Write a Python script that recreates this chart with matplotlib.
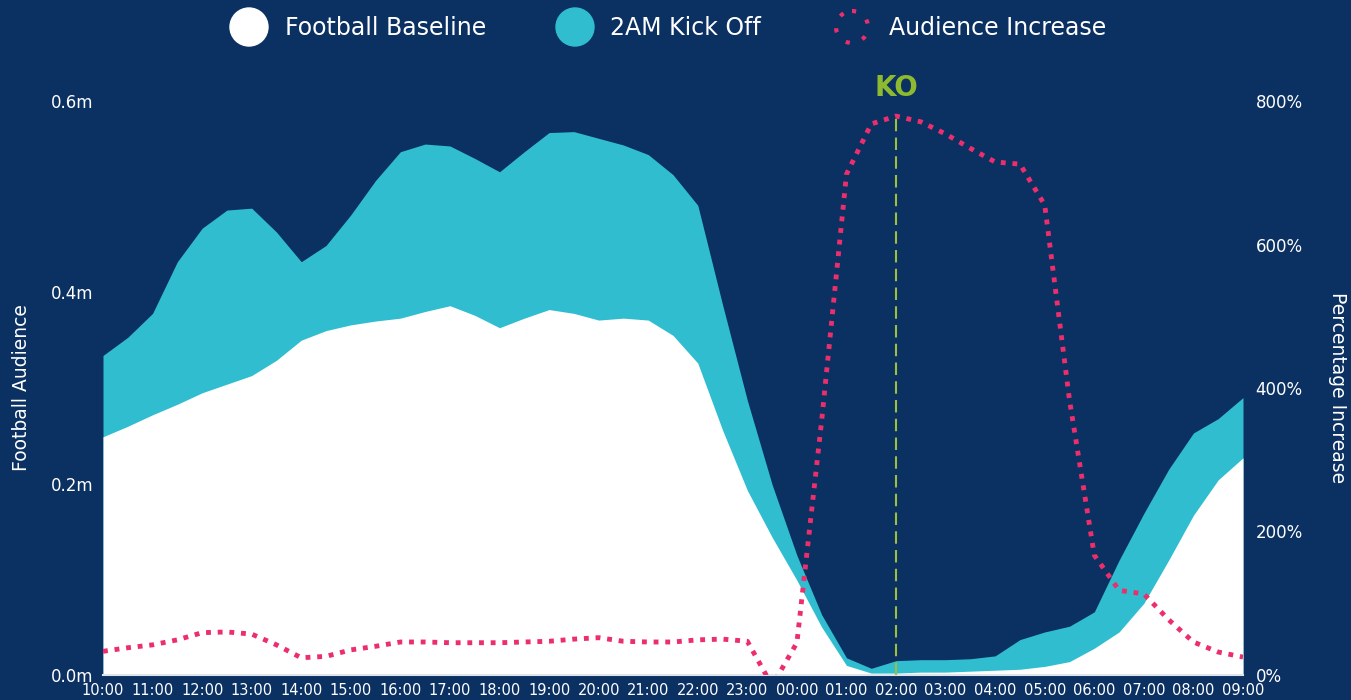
import numpy as np
import matplotlib
matplotlib.use("Agg")
import matplotlib.pyplot as plt
from matplotlib.patches import Circle

# hourly tick labels (10:00 -> 09:00 next day)
hour_labels = ["10:00", "11:00", "12:00", "13:00", "14:00", "15:00", "16:00", "17:00",
               "18:00", "19:00", "20:00", "21:00", "22:00", "23:00", "00:00", "01:00",
               "02:00", "03:00", "04:00", "05:00", "06:00", "07:00", "08:00", "09:00"]

# half-hourly readings, audience in millions
baseline = [0.249, 0.260, 0.272, 0.283, 0.295, 0.304, 0.313, 0.329, 0.350, 0.360,
            0.366, 0.370, 0.373, 0.380, 0.386, 0.376, 0.363, 0.373, 0.382, 0.378,
            0.371, 0.373, 0.371, 0.355, 0.326, 0.256, 0.193, 0.144, 0.099, 0.050,
            0.010, 0.002, 0.002, 0.003, 0.003, 0.004, 0.005, 0.006, 0.009, 0.014,
            0.028, 0.045, 0.075, 0.120, 0.167, 0.204, 0.227]

kick_off_2am = [0.334, 0.353, 0.378, 0.432, 0.467, 0.486, 0.488, 0.463, 0.432, 0.449,
                0.481, 0.517, 0.547, 0.555, 0.553, 0.540, 0.526, 0.547, 0.567, 0.568,
                0.561, 0.554, 0.544, 0.523, 0.491, 0.387, 0.287, 0.199, 0.125, 0.063,
                0.018, 0.007, 0.015, 0.016, 0.016, 0.017, 0.020, 0.037, 0.045, 0.051,
                0.066, 0.120, 0.169, 0.215, 0.253, 0.268, 0.290]

# percentage increase (right axis)
increase = [33, 38, 42, 49, 59, 60, 57, 42, 24, 26,
            35, 40, 46, 46, 45, 45, 45, 46, 47, 50,
            52, 47, 46, 46, 49, 50, 47, -15, 45, 355,
            698, 768, 779, 771, 754, 734, 715, 712, 655, 383,
            167, 118, 113, 77, 46, 32, 25]

ko_hour = "02:00"

navy = "#0b3062"
teal = "#31bdd0"
pink = "#ec2f6c"
green = "#8dba2e"

x = np.arange(len(baseline)) * 0.5

fig = plt.figure(figsize=(13.51, 7), dpi=100, facecolor=navy)
ax = fig.add_axes([103 / 1351, 1 - 675 / 700, 1140 / 1351, 574 / 700])
ax.set_facecolor(navy)

ax.fill_between(x, 0, kick_off_2am, color=teal, lw=0)
ax.fill_between(x, 0, baseline, color="white", lw=0)

ko_x = hour_labels.index(ko_hour)
ax.axvline(ko_x, ymin=0, ymax=0.979, color="#9cbf3c", lw=1.5, ls=(0, (6, 3)), zorder=3)
ax.text(ko_x, 0.614, "KO", color=green, fontsize=20, fontweight="bold",
        ha="center", va="center")

ax.set_xlim(0, len(hour_labels) - 1)
ax.set_ylim(0, 0.6)
ax.set_xticks(range(len(hour_labels)))
ax.set_xticklabels(hour_labels)
ax.set_yticks([0, 0.2, 0.4, 0.6])
ax.set_yticklabels(["0.0m", "0.2m", "0.4m", "0.6m"])
ax.tick_params(axis="x", colors="white", labelsize=10.5, length=0, pad=6)
ax.tick_params(axis="y", colors="white", labelsize=12, length=0, pad=7)
for s in ["top", "left", "right"]:
    ax.spines[s].set_visible(False)
ax.spines["bottom"].set_color("#dfe4ea")
ax.spines["bottom"].set_linewidth(1.5)
ax.set_ylabel("Football Audience", color="white", fontsize=13.5)
ax.yaxis.set_label_coords(-0.063, 0.5)

ax2 = ax.twinx()
ax2.plot(x, increase, color=pink, lw=3.5, ls=(0, (1, 1.4)))
ax2.set_ylim(0, 800)
ax2.set_yticks([0, 200, 400, 600, 800])
ax2.set_yticklabels(["0%", "200%", "400%", "600%", "800%"])
ax2.tick_params(axis="y", colors="white", labelsize=12, length=0, pad=9)
for s in ax2.spines.values():
    s.set_visible(False)
ax2.set_ylabel("Percentage Increase", color="white", fontsize=13.5, rotation=-90,
               va="center")
ax2.yaxis.set_label_coords(1.083, 0.5)

# legend row drawn in pixel space
leg = fig.add_axes([0, 1 - 60 / 700, 1, 60 / 700])
leg.set_xlim(0, 1351)
leg.set_ylim(60, 0)
leg.axis("off")
leg.add_patch(Circle((249, 27), 19, color="white"))
leg.add_patch(Circle((575, 27), 19, color=teal))
leg.add_patch(Circle((852, 27), 16, fill=False, ec=pink, lw=3, ls=(0, (1, 3.2)),
                     clip_on=False))
leg.text(285, 28, "Football Baseline", color="white", fontsize=17, va="center")
leg.text(610, 28, "2AM Kick Off", color="white", fontsize=17, va="center")
leg.text(889, 28, "Audience Increase", color="white", fontsize=17, va="center")

fig.savefig("out.png", dpi=100, facecolor=navy)
